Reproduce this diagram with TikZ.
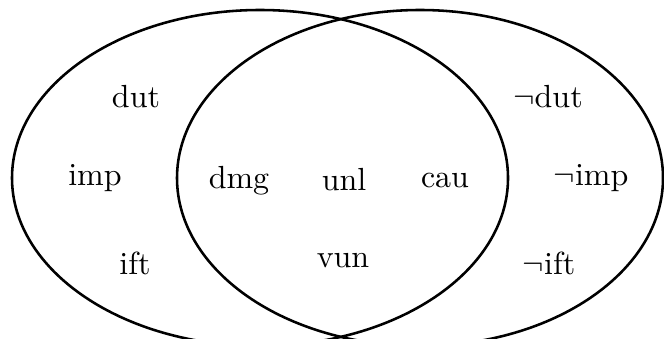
\documentclass[tikz,border=0pt]{standalone}
\usepackage{amssymb}
\begin{document}
\begin{tikzpicture}[x=0.3125pt,y=-0.3125pt,
  setline/.style={line width=0.8pt},
  lbl/.style={anchor=base,inner sep=0pt,font=\fontsize{10pt}{12pt}\selectfont}]
\useasboundingbox (0,0) rectangle (664,338);
\clip (0,0) rectangle (664,338);
\draw[setline] (260,178) ellipse [x radius=248, y radius=168];
\draw[setline] (420,178) ellipse [x radius=243, y radius=168];
\node[lbl] (dut) at (136,107) {dut};
\node[lbl] (imp) at (95,185) {imp};
\node[lbl] (ift) at (135,274) {ift};
\node[lbl] (dmg) at (239,188) {dmg};
\node[lbl] (unl) at (344,190) {unl};
\node[lbl] (cau) at (445,187) {cau};
\node[lbl] (vun) at (343,267) {vun};
\node[lbl] (ndut) at (548,107) {$\neg$dut};
\node[lbl] (nimp) at (591,185) {$\neg$imp};
\node[lbl] (nift) at (549,274) {$\neg$ift};
\end{tikzpicture}
\end{document}
